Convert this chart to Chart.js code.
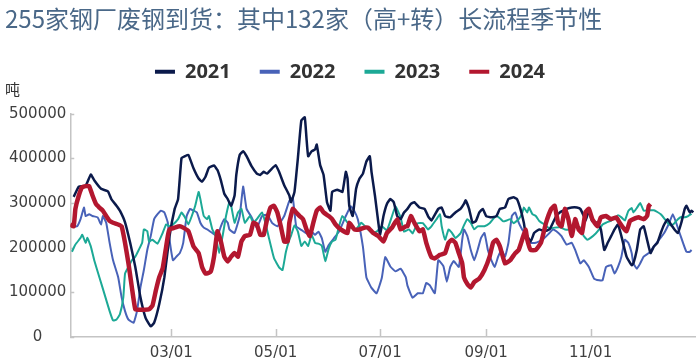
<!DOCTYPE html>
<html>
<head>
<meta charset="utf-8">
<script src="https://cdn.jsdelivr.net/npm/chart.js@4"></script>
<style>
  html, body { margin: 0; padding: 0; background: #fff; }
</style>
</head>
<body>
<canvas id="seasonChart" width="698" height="364"></canvas>
<script>
// day index counts from 01/01 (day 0)
var tickLabels = ['03/01', '05/01', '07/01', '09/01', '11/01'];
var years = ['2021', '2022', '2023', '2024'];

var days2021 = [2,5,9,12,14,18,22,24,27,29,32,35,38,41,44,47,49,52,55,58,61,63,65,67,69,72,75,77,79,81,84,86,88,90,92,94,96,97,99,101,103,106,109,111,113,115,117,120,122,125,128,129,131,133,135,137,138,139,141,143,144,146,148,150,152,153,156,159,161,162,163,165,167,169,171,173,175,176,178,180,181,183,185,187,189,191,193,195,197,199,201,204,207,209,211,215,217,219,222,225,228,230,231,233,235,237,239,241,243,246,249,251,254,256,259,261,263,265,266,269,271,274,277,280,282,284,286,288,290,293,296,298,300,301,303,305,308,310,312,314,316,318,320,322,325,328,329,331,333,335,337,339,341,343,345,347,349,351,353,355,357,359,360,362,363,364];
var values2021 = [314000,337000,339000,364000,351000,332000,326000,309000,294000,283000,257000,211000,157000,89000,43000,24000,32000,74000,134000,226000,287000,309000,401000,405000,408000,378000,355000,348000,359000,379000,384000,374000,351000,321000,309000,294000,317000,363000,408000,416000,405000,382000,366000,363000,370000,366000,374000,385000,370000,340000,317000,302000,325000,401000,485000,492000,446000,405000,416000,420000,431000,385000,363000,302000,283000,325000,330000,325000,370000,355000,294000,271000,332000,355000,366000,393000,405000,370000,317000,256000,229000,271000,298000,309000,302000,271000,264000,279000,287000,298000,302000,290000,287000,271000,261000,287000,290000,271000,268000,279000,287000,298000,306000,287000,256000,260000,279000,287000,271000,268000,271000,287000,290000,309000,313000,309000,287000,256000,233000,214000,233000,241000,237000,241000,256000,271000,279000,283000,287000,290000,290000,287000,271000,261000,282000,259000,256000,241000,195000,211000,226000,241000,252000,226000,180000,161000,165000,195000,241000,248000,218000,188000,203000,211000,233000,252000,264000,252000,241000,233000,256000,287000,294000,279000,283000,279000];

var days2022 = [2,4,6,8,9,11,13,16,18,19,21,23,25,28,30,32,34,37,39,41,43,45,47,49,51,53,55,57,58,60,62,64,66,68,70,72,74,76,78,80,83,86,88,90,92,93,96,99,101,103,106,109,112,115,118,121,125,128,130,132,135,138,141,143,145,147,149,151,154,157,161,164,166,168,171,173,176,179,182,184,187,190,193,196,197,200,203,206,208,210,213,215,218,220,222,224,227,229,230,232,234,236,238,240,242,244,246,248,250,252,254,256,258,260,262,264,265,268,272,276,280,282,284,287,290,293,295,298,300,303,306,309,311,313,316,318,320,322,324,326,328,329,331,333,335,338,341,344,347,350,352,354,356,358,360,362,363];
var values2022 = [248000,248000,264000,290000,271000,275000,271000,268000,252000,271000,256000,211000,172000,134000,89000,58000,39000,32000,58000,111000,150000,195000,226000,264000,275000,283000,279000,256000,218000,172000,180000,188000,211000,271000,287000,283000,279000,256000,245000,241000,233000,226000,248000,264000,256000,241000,233000,271000,337000,287000,268000,244000,271000,274000,255000,248000,271000,305000,312000,248000,240000,232000,236000,229000,236000,221000,191000,206000,221000,236000,271000,293000,282000,264000,202000,134000,110000,98000,132000,179000,158000,147000,153000,134000,115000,88000,98000,98000,121000,116000,98000,172000,159000,124000,157000,170000,157000,218000,241000,226000,195000,172000,195000,222000,233000,195000,172000,157000,180000,195000,180000,211000,271000,279000,256000,241000,236000,211000,211000,218000,233000,241000,237000,226000,207000,211000,195000,165000,172000,157000,131000,127000,127000,157000,161000,142000,157000,180000,218000,211000,188000,165000,153000,165000,180000,188000,203000,218000,233000,256000,275000,256000,233000,211000,191000,191000,195000];

var days2023 = [1,3,6,7,9,10,12,14,17,20,23,25,27,29,31,32,34,36,38,40,42,43,45,46,48,51,54,56,58,60,63,65,67,69,71,73,75,76,78,80,81,83,85,87,89,91,93,94,96,98,100,102,105,107,109,112,114,116,119,122,124,126,128,129,131,133,135,137,139,141,143,145,147,149,151,153,155,157,159,162,164,167,170,173,176,179,182,185,188,190,193,195,198,200,203,206,209,211,214,216,217,219,221,223,225,228,230,232,234,236,238,240,242,245,247,249,251,253,255,257,259,262,264,265,267,268,270,272,274,277,280,283,286,289,292,295,298,300,302,304,307,309,311,313,316,318,320,322,324,326,328,329,331,333,335,337,339,341,343,345,347,349,351,353,355,357,359,361,363];
var values2023 = [191000,207000,222000,229000,211000,222000,203000,172000,134000,96000,58000,37000,39000,51000,89000,142000,157000,172000,180000,195000,211000,241000,237000,214000,218000,209000,233000,252000,248000,252000,264000,279000,268000,252000,271000,294000,325000,309000,271000,264000,271000,241000,226000,188000,226000,271000,302000,294000,256000,279000,287000,256000,271000,256000,264000,279000,256000,223000,177000,156000,150000,191000,218000,227000,250000,236000,204000,214000,204000,229000,211000,209000,204000,170000,198000,214000,218000,248000,271000,256000,245000,241000,256000,245000,234000,236000,248000,239000,271000,293000,268000,236000,241000,232000,255000,255000,241000,248000,264000,275000,248000,218000,241000,233000,222000,232000,250000,264000,256000,241000,248000,248000,248000,255000,264000,271000,266000,259000,261000,264000,255000,264000,277000,290000,279000,290000,275000,271000,260000,252000,243000,245000,246000,241000,241000,248000,245000,226000,218000,222000,232000,241000,252000,256000,261000,266000,273000,268000,261000,282000,289000,279000,289000,300000,283000,284000,284000,284000,280000,275000,266000,256000,250000,255000,264000,269000,268000,271000,276000];

var days2024 = [0,2,3,5,7,9,11,13,15,17,19,21,23,25,28,30,32,34,36,38,40,43,46,48,50,52,54,57,58,61,64,66,69,72,75,77,79,82,84,86,88,90,92,94,96,98,100,102,105,107,109,111,113,115,117,119,121,123,125,127,128,130,132,134,136,138,140,142,144,146,148,151,153,155,158,162,163,166,169,172,174,177,180,183,185,188,191,193,196,197,199,201,204,206,208,211,213,216,219,221,223,225,227,229,230,232,234,236,239,242,245,247,249,251,254,257,260,262,264,266,267,269,272,275,278,281,283,285,287,289,291,293,295,297,299,301,303,305,308,310,313,316,319,321,323,325,327,329,332,335,337,338,339];
var values2024 = [252000,248000,287000,317000,336000,338000,338000,317000,298000,290000,283000,271000,260000,256000,252000,248000,211000,165000,111000,62000,61000,61000,62000,70000,104000,134000,154000,226000,241000,245000,248000,245000,237000,203000,188000,157000,142000,146000,180000,237000,214000,180000,169000,180000,188000,180000,214000,226000,229000,256000,252000,229000,229000,264000,290000,294000,279000,248000,214000,214000,256000,287000,279000,271000,264000,241000,226000,256000,283000,290000,279000,271000,264000,252000,241000,233000,256000,241000,241000,245000,245000,233000,226000,214000,233000,245000,264000,241000,248000,248000,271000,256000,237000,241000,211000,179000,176000,184000,188000,211000,218000,211000,188000,165000,134000,119000,111000,123000,131000,150000,180000,211000,218000,203000,165000,172000,188000,195000,218000,241000,218000,195000,195000,211000,256000,287000,294000,256000,248000,287000,264000,226000,264000,241000,233000,279000,287000,264000,248000,268000,271000,264000,268000,256000,245000,237000,260000,264000,268000,264000,271000,294000,298000];

var yearDays = [days2021, days2022, days2023, days2024];
var yearValues = [values2021, values2022, values2023, values2024];
var lineColors = ['#0b1a4b', '#4862b8', '#1ca996', '#b3172f'];
var lineWidths = [2.5, 2, 2, 4.5];
var drawOrder = [1, 3, 2, 0];

function dayOfYear(label) {
    var p = label.split('/');
    var d = new Date(2023, parseInt(p[0], 10) - 1, parseInt(p[1], 10));
    return Math.round((d - new Date(2023, 0, 1)) / 86400000);
}
var tickDays = tickLabels.map(dayOfYear);

var datasets = years.map(function(year, i) {
    return {
        label: year,
        data: yearDays[i].map(function(d, j) { return {x: d, y: yearValues[i][j]}; }),
        borderColor: lineColors[i],
        backgroundColor: lineColors[i],
        borderWidth: lineWidths[i],
        pointRadius: 0,
        tension: 0.12,
        order: drawOrder[i]
    };
});

// extra room under the legend
var legendGap = {
    id: 'legendGap',
    beforeInit: function(chart) {
        var fit = chart.legend.fit;
        chart.legend.fit = function() {
            fit.call(this);
            this.height += 22;
        };
    }
};

var axisMarks = {
    id: 'axisMarks',
    beforeDatasetsDraw: function(chart) {
        var ctx = chart.ctx, xs = chart.scales.x, ys = chart.scales.y;
        ctx.save();
        ctx.strokeStyle = '#c4c4c4';
        ctx.lineWidth = 1.5;
        ctx.beginPath();
        xs.ticks.forEach(function(t) {
            var px = Math.round(xs.getPixelForValue(t.value)) + 0.5;
            ctx.moveTo(px, xs.top);
            ctx.lineTo(px, xs.top - 8);
        });
        ys.ticks.forEach(function(t) {
            var py = Math.round(ys.getPixelForValue(t.value)) + 0.5;
            ctx.moveTo(ys.right, py);
            ctx.lineTo(ys.right + 4, py);
        });
        ctx.stroke();
        ctx.fillStyle = '#333333';
        ctx.font = '15px "Noto Sans CJK SC"';
        ctx.textBaseline = 'middle';
        ctx.textAlign = 'left';
        ctx.fillText('吨', ys.left, chart.chartArea.top - 25);
        ctx.restore();
    }
};

var tickFont = {family: 'DejaVu Sans', size: 15};

new Chart(document.getElementById('seasonChart'), {
    type: 'line',
    data: {datasets: datasets},
    plugins: [legendGap, axisMarks],
    options: {
        responsive: false,
        animation: false,
        devicePixelRatio: 1,
        layout: {padding: {left: 5, right: 3, top: 0, bottom: -6}},
        plugins: {
            title: {
                display: true,
                text: '255家钢厂废钢到货：其中132家（高+转）长流程季节性',
                align: 'start',
                color: '#4a6888',
                font: {family: 'Noto Sans CJK SC', size: 24, weight: 'normal'},
                padding: {top: 4, bottom: 0}
            },
            legend: {
                position: 'top',
                align: 'center',
                labels: {
                    boxWidth: 20,
                    boxHeight: 4,
                    padding: 29,
                    color: '#333333',
                    font: {family: 'Noto Sans', size: 20, weight: 'bold'},
                    sort: function(a, b) { return a.datasetIndex - b.datasetIndex; },
                    generateLabels: function(chart) {
                        var items = Chart.defaults.plugins.legend.labels.generateLabels(chart);
                        items.forEach(function(it) { it.lineWidth = 0; it.fillStyle = it.strokeStyle; });
                        return items;
                    }
                }
            },
            tooltip: {enabled: false}
        },
        scales: {
            x: {
                type: 'linear',
                min: 0,
                max: 365,
                grid: {display: false, drawTicks: false},
                border: {display: true, color: '#c4c4c4', width: 1.5},
                afterBuildTicks: function(scale) {
                    scale.ticks = tickDays.map(function(d) { return {value: d}; });
                },
                ticks: {
                    autoSkip: false,
                    maxRotation: 0,
                    padding: 7.5,
                    color: '#3f3f3f',
                    font: tickFont,
                    callback: function(value) {
                        var k = tickDays.indexOf(value);
                        return k >= 0 ? tickLabels[k] : '';
                    }
                }
            },
            y: {
                min: 0,
                max: 500000,
                grid: {display: false, drawTicks: false},
                border: {display: true, color: '#c4c4c4', width: 1.5},
                ticks: {
                    stepSize: 100000,
                    padding: 4,
                    crossAlign: 'center',
                    color: '#3f3f3f',
                    font: tickFont,
                    callback: function(value) { return String(value); }
                }
            }
        }
    }
});
</script>
</body>
</html>
